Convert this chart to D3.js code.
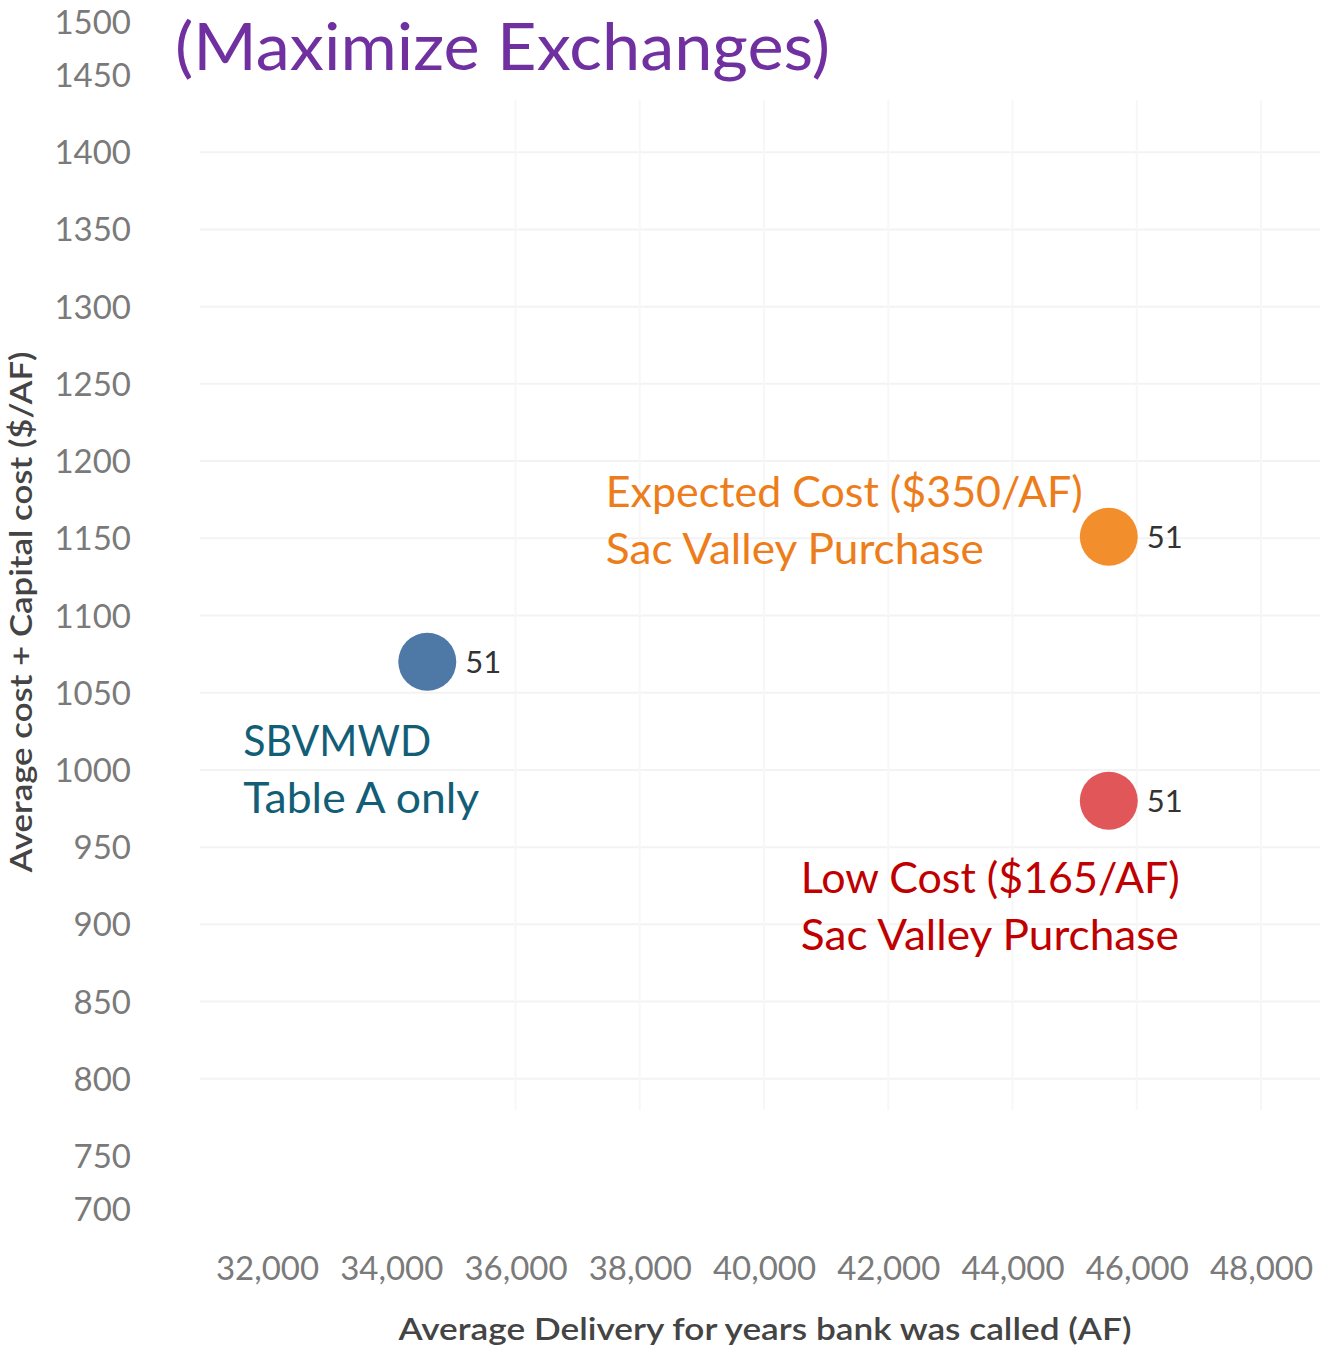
<!DOCTYPE html>
<html>
<head>
<meta charset="utf-8">
<script src="https://cdn.jsdelivr.net/npm/d3@7"></script>
<style>
  html, body { margin: 0; padding: 0; background: #fff; }
  svg { display: block; }
</style>
</head>
<body>
<svg id="chart" width="1326" height="1347"></svg>
<script>
// Scenario results: average delivery vs. average + capital cost
const scenarios = ["SBVMWD Table A only", "Expected Cost ($350/AF) Sac Valley Purchase", "Low Cost ($165/AF) Sac Valley Purchase"];
const delivery = [34580, 45550, 45550];      // AF
const cost = [1070, 1151, 980];              // $/AF
const pointLabels = ["51", "51", "51"];
const pointColors = ["#4e79a7", "#f28e2b", "#e15759"];

// Axis tick values
const xTicks = [32000, 34000, 36000, 38000, 40000, 42000, 44000, 46000, 48000];
const yTicks = [700, 750, 800, 850, 900, 950, 1000, 1050, 1100, 1150, 1200, 1250, 1300, 1350, 1400, 1450, 1500];

// Text
const titleText = "(Maximize Exchanges)";
const xTitle = "Average Delivery for years bank was called (AF)";
const yTitle = "Average cost + Capital cost ($/AF)";
const annotationLines = [
  ["SBVMWD", "Table A only"],
  ["Expected Cost ($350/AF)", "Sac Valley Purchase"],
  ["Low Cost ($165/AF)", "Sac Valley Purchase"]
];
const annotationColors = ["#135e77", "#ed7d1a", "#c00000"];

const svg = d3.select("#chart");

const x = d3.scaleLinear().domain([32000, 48000]).range([267, 1261]);
// the value axis is compressed at both ends
const y = d3.scaleLinear().domain([700, 750, 1450, 1500]).range([1209, 1156, 75, 22]);

// Gridlines
const grid = svg.append("g").attr("class", "grid");
grid.selectAll("line.h")
  .data(yTicks.filter(v => v >= 800 && v <= 1400))
  .join("line")
  .attr("class", "h")
  .attr("x1", 200).attr("x2", 1320)
  .attr("y1", d => y(d)).attr("y2", d => y(d))
  .attr("stroke", "#f3f3f3").attr("stroke-width", 2);
grid.selectAll("line.v")
  .data(xTicks.filter(v => v >= 36000))
  .join("line")
  .attr("class", "v")
  .attr("x1", d => x(d)).attr("x2", d => x(d))
  .attr("y1", 100).attr("y2", 1110)
  .attr("stroke", "#f7f7f7").attr("stroke-width", 2);

// Y axis (labels only)
const yAxis = d3.axisLeft(y).tickValues(yTicks).tickSize(0).tickPadding(0).tickFormat(d3.format("d"));
const yg = svg.append("g").attr("transform", "translate(131,0)").call(yAxis);
yg.select(".domain").remove();
yg.selectAll("text")
  .attr("fill", "#7a7a7a")
  .attr("font-family", "Lato, 'Open Sans', sans-serif")
  .attr("font-size", 33)
  .attr("dy", "0.35em");

// X axis (labels only)
const xAxis = d3.axisBottom(x).tickValues(xTicks).tickSize(0).tickPadding(0).tickFormat(d3.format(","));
const xg = svg.append("g").attr("transform", "translate(0,1257)").call(xAxis);
xg.select(".domain").remove();
xg.selectAll("text")
  .attr("fill", "#7a7a7a")
  .attr("font-family", "Lato, 'Open Sans', sans-serif")
  .attr("font-size", 33)
  .attr("dy", "0.71em");

// Axis titles
svg.append("text")
  .attr("x", 765).attr("y", 1340)
  .attr("text-anchor", "middle")
  .attr("fill", "#444")
  .attr("font-family", "Lato, 'Open Sans', sans-serif")
  .attr("font-weight", 600)
  .attr("font-size", 30)
  .attr("textLength", 733).attr("lengthAdjust", "spacingAndGlyphs")
  .text(xTitle);

svg.append("text")
  .attr("transform", "translate(32,612) rotate(-90)")
  .attr("text-anchor", "middle")
  .attr("fill", "#444")
  .attr("font-family", "Lato, 'Open Sans', sans-serif")
  .attr("font-weight", 600)
  .attr("font-size", 30)
  .attr("textLength", 521).attr("lengthAdjust", "spacingAndGlyphs")
  .text(yTitle);

// Title
svg.append("text")
  .attr("x", 175).attr("y", 70)
  .attr("fill", "#7030a0")
  .attr("font-family", "Lato, 'Open Sans', sans-serif")
  .attr("font-size", 66)
  .attr("textLength", 655).attr("lengthAdjust", "spacingAndGlyphs")
  .text(titleText);

// Points
const pts = scenarios.map((s, i) => ({ name: s, dx: delivery[i], c: cost[i], label: pointLabels[i], color: pointColors[i] }));

svg.append("g").selectAll("circle")
  .data(pts)
  .join("circle")
  .attr("cx", d => x(d.dx))
  .attr("cy", d => y(d.c))
  .attr("r", 29)
  .attr("fill", d => d.color);

svg.append("g").selectAll("text")
  .data(pts)
  .join("text")
  .attr("x", d => x(d.dx) + 38)
  .attr("y", d => y(d.c))
  .attr("dy", "0.35em")
  .attr("fill", "#333")
  .attr("font-family", "Lato, 'Open Sans', sans-serif")
  .attr("font-size", 31)
  .text(d => d.label);

// Scenario annotations, anchored to their point
const annoOffsets = [
  { dx: -184, dy: 94, widths: [188, 236] },
  { dx: -503, dy: -30, widths: [477, 378] },
  { dx: -308, dy: 92, widths: [379, 378] }
];
pts.forEach((p, i) => {
  const o = annoOffsets[i];
  const t = svg.append("text")
    .attr("fill", annotationColors[i])
    .attr("font-family", "Lato, 'Open Sans', sans-serif")
    .attr("font-size", 42);
  annotationLines[i].forEach((line, j) => {
    t.append("tspan")
      .attr("x", x(p.dx) + o.dx)
      .attr("y", y(p.c) + o.dy + j * 57)
      .attr("textLength", o.widths[j])
      .attr("lengthAdjust", "spacingAndGlyphs")
      .text(line);
  });
});
</script>
</body>
</html>
